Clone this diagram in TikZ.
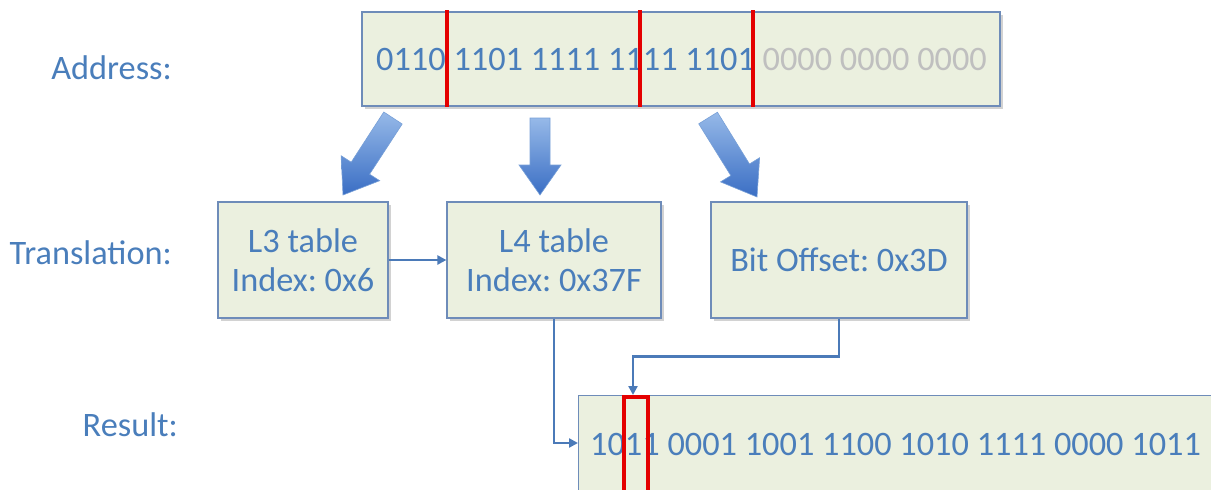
\documentclass[tikz,border=0pt]{standalone}
\usepackage{fontspec}
\setmainfont{Carlito}
\usetikzlibrary{arrows.meta,shadows}
\frenchspacing

\definecolor{txtblue}{RGB}{74,126,187}
\definecolor{bitgray}{RGB}{191,191,191}
\definecolor{boxfill}{RGB}{235,240,223}
\definecolor{boxline}{RGB}{110,140,185}
\definecolor{connblue}{RGB}{75,122,184}
\definecolor{barred}{RGB}{228,0,0}
\definecolor{arrtop}{RGB}{150,185,232}
\definecolor{arrbot}{RGB}{58,110,196}
\definecolor{arredge}{RGB}{120,160,215}

\newcommand{\bigtext}{\fontsize{34.3}{39}\selectfont}

\begin{document}
\begin{tikzpicture}[x=1pt,y=-1pt,
  box/.style={draw=boxline, line width=1.2pt, fill=boxfill,
    drop shadow={shadow xshift=2.5pt, shadow yshift=-2.5pt, opacity=0.25, fill=black!70},
    inner sep=0pt, font=\bigtext, text=txtblue, align=center},
  lbl/.style={inner sep=0pt, font=\bigtext, text=txtblue},
  bits/.style={inner sep=0pt, font=\bigtext, text=txtblue},
  conn/.style={draw=connblue, line width=2.6pt, -{Triangle[length=9pt,width=9pt]}},
  redbar/.style={draw=barred, line width=4pt},
  fatarrow/.style={top color=arrtop, bottom color=arrbot, draw=arredge, line width=0.6pt}]

\useasboundingbox (0,0) rectangle (1211,490);
\clip (0,0) rectangle (1211,490);

% row labels
\node[lbl, anchor=base east] (labaddr) at (172,79) {Address:};
\node[lbl, anchor=base east] (labtrans) at (172,264) {Translation:};
\node[lbl, anchor=base east] (labres) at (178,436) {Result:};

% address word
\node[box, minimum width=638pt, minimum height=94pt] (addr) at (681,59) {};
\node[bits, anchor=base west] (addrbits) at (376,70)
  {\textcolor{txtblue}{0110 1101 1111 1111 1101} \textcolor{bitgray}{0000 0000 0000}};
\draw[redbar] (447,10) -- (447,107);
\draw[redbar] (640,10) -- (640,107);
\draw[redbar] (753,10) -- (753,107);

% block arrows from the address fields
\shade[fatarrow] (383.8,112.0) -- (402.2,124.0) -- (369.6,174.2) -- (379.7,180.7)
  -- (343,195) -- (341.1,155.7) -- (351.2,162.2) -- cycle;
\shade[fatarrow] (530,118) -- (550,118) -- (550,165) -- (561,165)
  -- (540,195) -- (519,165) -- (530,165) -- cycle;
\shade[fatarrow] (698.7,123.8) -- (717.4,112.2) -- (749.5,164.0) -- (759.6,157.7)
  -- (757,197) -- (720.5,181.9) -- (730.8,175.6) -- cycle;

% translation steps
\node[box, minimum width=170pt, minimum height=116pt] (l3) at (303,260) {L3 table\\Index: 0x6};
\node[box, minimum width=214pt, minimum height=116pt] (l4) at (554,260) {L4 table\\Index: 0x37F};
\node[box, minimum width=256pt, minimum height=116pt] (bit) at (839,260) {Bit Offset: 0x3D};

% result word
\node[box, minimum width=680pt, minimum height=130pt, anchor=north west] (res) at (578,395) {};
\node[bits, anchor=base west] (resbits) at (590,455)
  {1011 0001 1001 1100 1010 1111 0000 1011};
\draw[redbar] (623.5,397) rectangle (647.5,520);

% connectors
\coordinate (resin) at (578,443);
\coordinate (bitin) at (633,395);
\draw[conn] (l3.east) -- (l4.west);
\draw[conn] (l4.south) |- (resin);
\draw[conn] (bit.south) -- ++(0,38) -| (bitin);

\end{tikzpicture}
\end{document}
